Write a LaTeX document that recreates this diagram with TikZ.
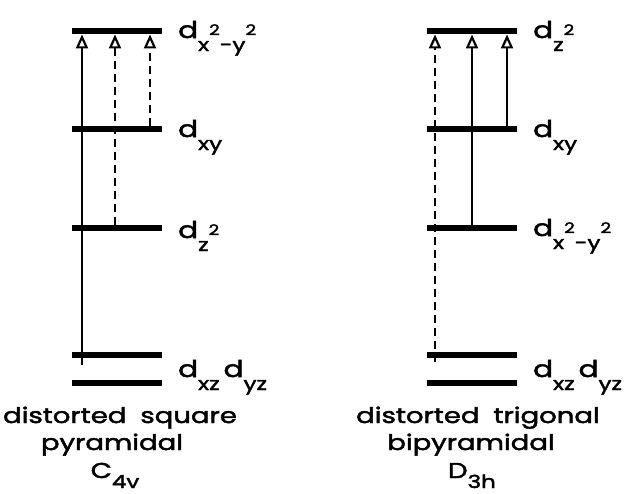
\documentclass[tikz,border=0pt]{standalone}
\usepackage{fontspec}
\setmainfont[FakeStretch=1.28, FakeBold=2.2]{Poppins}
\usetikzlibrary{arrows.meta}
\newcommand\subf{\fontsize{18}{18}\selectfont}
\newcommand\supf{\fontsize{14.5}{14.5}\selectfont}
\newcommand\lo[1]{\raisebox{-13pt}{\subf #1}}
\newcommand\clo[1]{\raisebox{-10pt}{\subf #1}}
\newcommand\hi[1]{\raisebox{3pt}{\supf #1}}
\begin{document}
\begin{tikzpicture}[x=1pt,y=-1pt,
  bar/.style={fill=black, inner sep=0pt, minimum width=90pt, minimum height=6.5pt, anchor=west},
  lab/.style={anchor=base west, inner sep=0pt, font=\fontsize{23}{23}\selectfont},
  captext/.style={anchor=base, inner sep=0pt, font=\fontsize{21.5}{21.5}\selectfont},
  up/.style={line width=1.5pt, -{Triangle[open, length=14pt, width=12pt, line width=2.2pt]}},
  dup/.style={up, line width=2pt, dash pattern=on 8pt off 5pt}]
\path[use as bounding box] (0,0) rectangle (634,493);
% left levels
\node[bar] (L1) at (72,31) {};
\node[bar] (L2) at (72,129) {};
\node[bar] (L3) at (72,228) {};
\node[bar] (L4) at (72,355) {};
\node[bar] (L5) at (72,383) {};
% right levels
\node[bar] (R1) at (427,31) {};
\node[bar] (R2) at (427,129) {};
\node[bar] (R3) at (427,228) {};
\node[bar] (R4) at (427,355) {};
\node[bar] (R5) at (427,383) {};
% left transitions
\coordinate (la) at (82,365);
\coordinate (lb) at (115,0);
\coordinate (lc) at (150,0);
\draw[up] (la) -- (la |- L1.south);
\draw[dup] (lb |- L3.north) -- (lb |- L1.south);
\draw[dup] (lc |- L2.north) -- (lc |- L1.south);
% right transitions
\coordinate (ra) at (435,362);
\coordinate (rb) at (472,0);
\coordinate (rc) at (507,0);
\draw[dup] (ra) -- (ra |- R1.south);
\draw[up] (rb |- R3.north) -- (rb |- R1.south);
\draw[up] (rc |- R2.north) -- (rc |- R1.south);
% left labels
\node[lab] (l1) at (178,38) {d\lo{x}\hi{2}\lo{-y}\hi{2}};
\node[lab] (l2) at (178,137) {d\lo{xy}};
\node[lab] (l3) at (178,238) {d\lo{z}\hi{2}};
\node[lab] (l4) at (178,377) {d\lo{xz}\kern4pt d\lo{yz}};
% right labels
\node[lab] (r1) at (533,38) {d\lo{z}\hi{2}};
\node[lab] (r2) at (533,137) {d\lo{xy}};
\node[lab] (r3) at (533,236) {d\lo{x}\hi{2}\lo{-y}\hi{2}};
\node[lab] (r4) at (533,377) {d\lo{xz}\kern4pt d\lo{yz}};
% captions
\node[captext] (c1) at (120,423) {distorted\hspace{14pt}square};
\node[captext] (c2) at (112,450) {pyramidal};
\node[captext] (c3) at (115,478) {C\clo{4v}};
\node[captext] (c4) at (478,423) {distorted\hspace{14pt}trigonal};
\node[captext] (c5) at (471,450) {bipyramidal};
\node[captext] (c6) at (472,478) {D\clo{3h}};
\end{tikzpicture}
\end{document}
